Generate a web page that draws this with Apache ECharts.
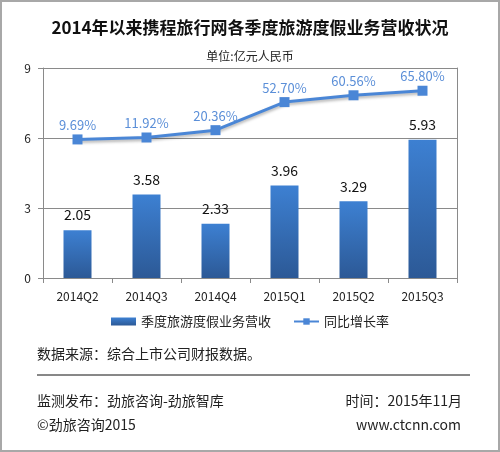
<!DOCTYPE html>
<html>
<head>
<meta charset="utf-8">
<script src="https://cdn.jsdelivr.net/npm/echarts@6/dist/echarts.min.js"></script>
<style>
	html, body { margin: 0; padding: 0; background: #fff; }
	#chart { width: 500px; height: 452px; box-sizing: border-box; border: 2px solid #a8a8a8; }
</style>
</head>
<body>
<div id="chart"></div>
<script>
	// 数据
	var categories = ['2014Q2', '2014Q3', '2014Q4', '2015Q1', '2015Q2', '2015Q3'];
	var revenue = [2.05, 3.58, 2.33, 3.96, 3.29, 5.93];
	var growth = [9.69, 11.92, 20.36, 52.70, 60.56, 65.80];
	var yTicks = [0, 3, 6, 9];

	var font = '"Noto Sans CJK SC", "Microsoft YaHei", sans-serif';
	var myChart = echarts.init(document.getElementById('chart'));

	var option = {
		backgroundColor: '#fff',
		textStyle: { fontFamily: font },
		title: [{
			text: '2014年以来携程旅行网各季度旅游度假业务营收状况',
			left: 'center',
			top: 12,
			textStyle: { fontSize: 17, fontWeight: 'bold', color: '#111', fontFamily: font }
		}, {
			text: '单位:亿元人民币',
			left: 'center',
			top: 43,
			textStyle: { fontSize: 12, fontWeight: 'normal', color: '#222', fontFamily: font }
		}],
		legend: {
			top: 308,
			left: 'center',
			itemGap: 22,
			itemWidth: 25,
			itemHeight: 8,
			textStyle: { fontSize: 13, color: '#222', fontFamily: font },
			data: [
				{ name: '季度旅游度假业务营收', icon: 'rect' },
				{ name: '同比增长率' }
			]
		},
		grid: { left: 41, right: 41, top: 66, bottom: 172 },
		xAxis: {
			type: 'category',
			data: categories,
			axisLine: { lineStyle: { color: '#8a8a8a' } },
			axisTick: { show: true, length: 5, alignWithLabel: false, lineStyle: { color: '#8a8a8a' } },
			axisLabel: { color: '#222', fontSize: 12, margin: 12, fontFamily: font }
		},
		yAxis: [{
			type: 'value',
			min: yTicks[0],
			max: yTicks[yTicks.length - 1],
			interval: 3,
			axisLine: { show: true, lineStyle: { color: '#8a8a8a' } },
			axisTick: { show: true, length: 5, lineStyle: { color: '#8a8a8a' } },
			axisLabel: { color: '#222', fontSize: 12, margin: 12, fontFamily: font },
			splitLine: { lineStyle: { color: '#8a8a8a' } }
		}, {
			// 隐藏的增长率坐标轴，仅显示右侧边框
			type: 'value',
			min: -150,
			max: 92,
			position: 'right',
			axisLine: { show: true, lineStyle: { color: '#8a8a8a' } },
			axisTick: { show: false },
			axisLabel: { show: false },
			splitLine: { show: false }
		}],
		series: [{
			name: '季度旅游度假业务营收',
			type: 'bar',
			data: revenue,
			barWidth: 28,
			itemStyle: {
				color: new echarts.graphic.LinearGradient(0, 0, 0, 1, [
					{ offset: 0, color: '#3d80d2' },
					{ offset: 1, color: '#2c5996' }
				])
			},
			label: {
				show: true,
				position: 'top',
				distance: 8,
				fontSize: 14,
				color: '#111',
				fontFamily: font
			}
		}, {
			name: '同比增长率',
			type: 'line',
			yAxisIndex: 1,
			data: growth,
			symbol: 'rect',
			symbolSize: 10,
			lineStyle: {
				color: '#4a86d6',
				width: 3,
				shadowColor: 'rgba(0,0,0,0.3)',
				shadowBlur: 3,
				shadowOffsetY: 2
			},
			itemStyle: { color: '#4a86d6' },
			label: {
				show: true,
				position: 'top',
				distance: 3,
				fontSize: 13,
				color: '#5b8fd8',
				fontFamily: font,
				formatter: function(p) {
					return p.value.toFixed(2) + '%';
				}
			}
		}],
		graphic: [{
			type: 'text',
			left: 35,
			top: 345,
			style: { text: '数据来源：综合上市公司财报数据。', fontSize: 14, fill: '#222', fontFamily: font }
		}, {
			type: 'line',
			shape: { x1: 35, y1: 373, x2: 468, y2: 373 },
			style: { stroke: '#111', lineWidth: 1 }
		}, {
			type: 'text',
			left: 35,
			top: 392,
			style: { text: '监测发布：劲旅咨询-劲旅智库', fontSize: 14, fill: '#222', fontFamily: font }
		}, {
			type: 'text',
			right: 36,
			top: 392,
			style: { text: '时间：2015年11月', fontSize: 14, fill: '#222', fontFamily: font }
		}, {
			type: 'text',
			left: 35,
			top: 416,
			style: { text: '©劲旅咨询2015', fontSize: 14, fill: '#222', fontFamily: font }
		}, {
			type: 'text',
			right: 37,
			top: 416,
			style: { text: 'www.ctcnn.com', fontSize: 14, fill: '#222', fontFamily: font }
		}]
	};
	myChart.setOption(option);
</script>
</body>
</html>
